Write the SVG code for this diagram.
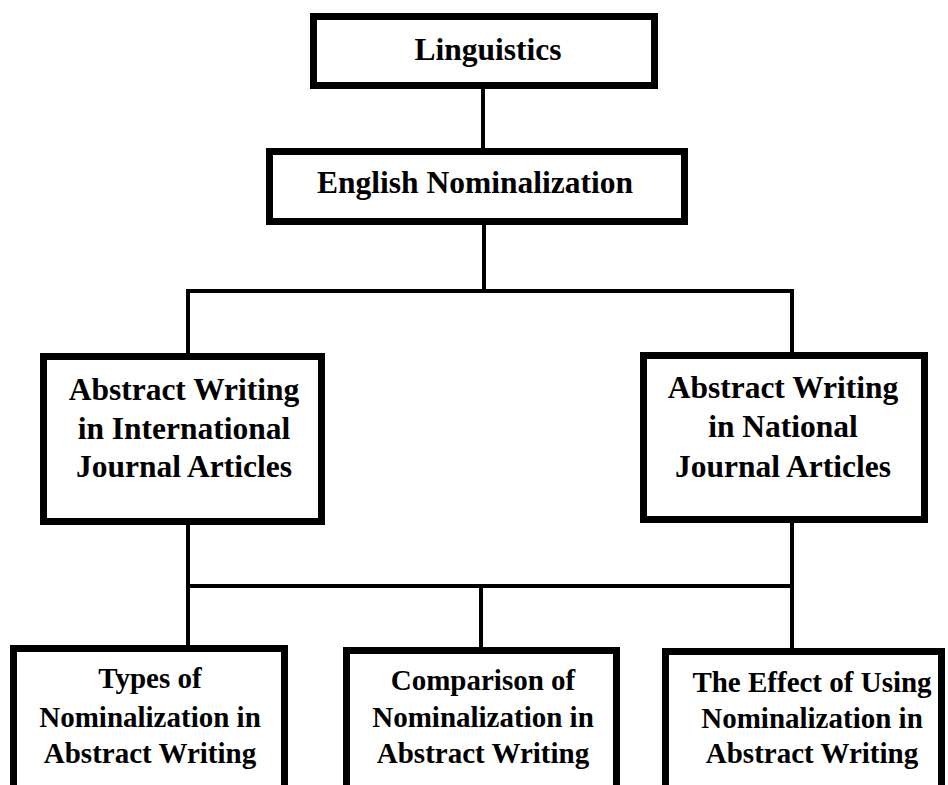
<svg xmlns="http://www.w3.org/2000/svg" width="948" height="785" viewBox="0 0 948 785">
<style>
.box{fill:#fff;stroke:#000;stroke-width:7}
.t{font-family:'Liberation Serif','Times New Roman','DejaVu Serif',serif;font-weight:700;fill:#000;text-anchor:middle}
.big{font-size:31.5px}
.sm{font-size:29px}
.c{stroke:#000;stroke-width:4;fill:none}
</style>
<rect width="948" height="785" fill="#fff"/>
<g id="connectors">
<line class="c" x1="483" y1="89" x2="483" y2="148"/>
<line class="c" x1="484" y1="225" x2="484" y2="291"/>
<line class="c" x1="186" y1="291" x2="794" y2="291"/>
<line class="c" x1="188" y1="291" x2="188" y2="353"/>
<line class="c" x1="792" y1="291" x2="792" y2="352"/>
<line class="c" x1="188" y1="525" x2="188" y2="645"/>
<line class="c" x1="792" y1="523" x2="792" y2="648"/>
<line class="c" x1="188" y1="586" x2="792" y2="586"/>
<line class="c" x1="481" y1="586" x2="481" y2="647"/>
</g>
<g id="linguistics">
<rect class="box" x="313.5" y="16.5" width="341" height="69"/>
<text class="t big" x="488" y="60" font-family="Liberation Serif, serif">Linguistics</text>
</g>
<g id="english">
<rect class="box" x="269.5" y="151.5" width="415" height="70"/>
<text class="t big" x="475" y="193" font-family="Liberation Serif, serif">English Nominalization</text>
</g>
<g id="intl">
<rect class="box" x="43.5" y="356.5" width="278" height="165"/>
<text class="t big" x="184" y="400" font-family="Liberation Serif, serif">Abstract Writing</text>
<text class="t big" x="184" y="439" font-family="Liberation Serif, serif">in International</text>
<text class="t big" x="184" y="477" font-family="Liberation Serif, serif">Journal Articles</text>
</g>
<g id="national">
<rect class="box" x="643.5" y="355.5" width="281" height="164"/>
<text class="t big" x="783" y="398" font-family="Liberation Serif, serif">Abstract Writing</text>
<text class="t big" x="783" y="437" font-family="Liberation Serif, serif">in National</text>
<text class="t big" x="783" y="477" font-family="Liberation Serif, serif">Journal Articles</text>
</g>
<g id="types">
<rect class="box" x="13.5" y="648.5" width="271" height="200"/>
<text class="t sm" x="150" y="688" font-family="Liberation Serif, serif">Types of</text>
<text class="t sm" x="150" y="727" font-family="Liberation Serif, serif">Nominalization in</text>
<text class="t sm" x="150" y="763" font-family="Liberation Serif, serif">Abstract Writing</text>
</g>
<g id="comparison">
<rect class="box" x="346.5" y="650.5" width="270" height="200"/>
<text class="t sm" x="483" y="690" font-family="Liberation Serif, serif">Comparison of</text>
<text class="t sm" x="483" y="727" font-family="Liberation Serif, serif">Nominalization in</text>
<text class="t sm" x="483" y="763" font-family="Liberation Serif, serif">Abstract Writing</text>
</g>
<g id="effect">
<rect class="box" x="665.5" y="651.5" width="276" height="200"/>
<text class="t sm" x="812" y="692" font-family="Liberation Serif, serif">The Effect of Using</text>
<text class="t sm" x="812" y="728" font-family="Liberation Serif, serif">Nominalization in</text>
<text class="t sm" x="812" y="763" font-family="Liberation Serif, serif">Abstract Writing</text>
</g>
</svg>
